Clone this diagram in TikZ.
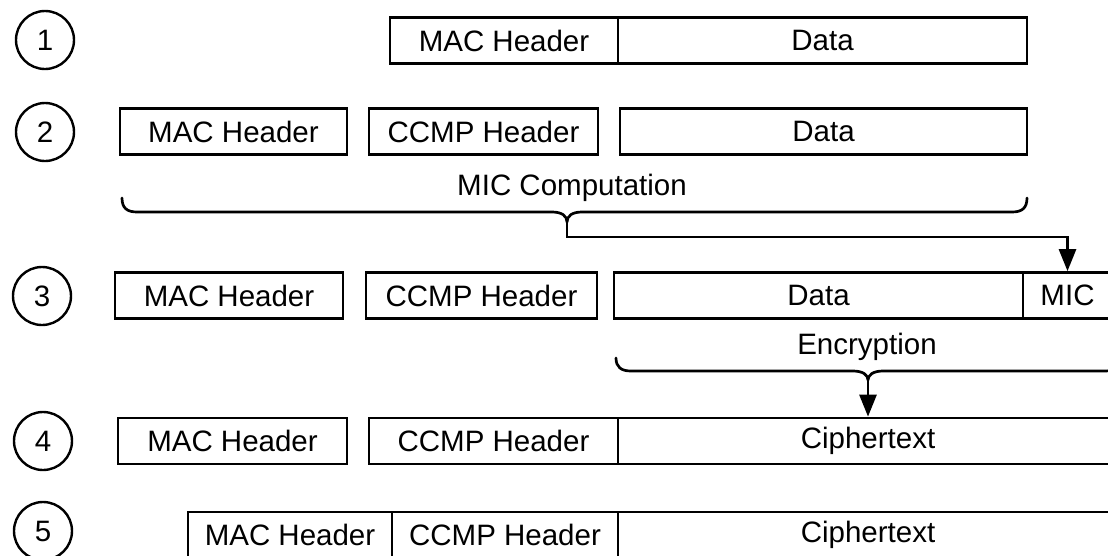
\documentclass[tikz,border=0pt]{standalone}
\usepackage{fontspec}
\setmainfont{Liberation Sans}
\usetikzlibrary{arrows.meta}
\tikzset{
  cell/.style={draw, rectangle, line width=2.7pt, minimum height=46pt, inner sep=0pt,
               font=\fontsize{29.5}{33}\selectfont},
  stepnum/.style={draw, circle, line width=2.4pt, minimum size=58pt, inner sep=0pt,
               font=\fontsize{29.5}{33}\selectfont},
  caption/.style={font=\fontsize{29.5}{33}\selectfont, inner sep=0pt},
  bracepath/.style={line width=2.7pt, line cap=round, line join=round},
  flow/.style={line width=2.7pt, -{Triangle[length=22pt,width=17pt]}},
}
\begin{document}
\begin{tikzpicture}[x=1pt,y=-1pt]
\useasboundingbox (0,0) rectangle (1108,555);
\clip (0,0) rectangle (1108,555);
\fill[white] (0,0) rectangle (1108,555);

% step numbers
\node[stepnum] (n1) at (45,40) {1};
\node[stepnum] (n2) at (45,132) {2};
\node[stepnum] (n3) at (42,296) {3};
\node[stepnum] (n4) at (43,441) {4};
\node[stepnum] (n5) at (43,531) {5};

% 1: plain frame
\node[cell, minimum width=228pt] (r1mac) at (504,40.5) {MAC Header};
\node[cell, minimum width=409pt] (r1data) at (822.5,40.5) {Data};

% 2: CCMP header inserted
\node[cell, minimum width=227pt] (r2mac) at (233.5,131.5) {MAC Header};
\node[cell, minimum width=229pt] (r2ccmp) at (483.5,131.5) {CCMP Header};
\node[cell, minimum width=407pt] (r2data) at (823.5,131.5) {Data};

\node[caption] (miclbl) at (572,188) {MIC Computation};

% brace over the whole step-2 frame
\coordinate (b1cusp) at (567,222);
\draw[bracepath] (122,198) .. controls (122,208) and (127,212) .. (137,212)
  -- (552,212) .. controls (562,212) and (567,216) .. (b1cusp)
  .. controls (567,216) and (572,212) .. (582,212)
  -- (1012,212) .. controls (1022,212) and (1027,208) .. (1027,198);

% 3: MIC appended
\node[cell, minimum width=228pt] (r3mac) at (229,295.5) {MAC Header};
\node[cell, minimum width=231pt] (r3ccmp) at (481.5,295.5) {CCMP Header};
\node[cell, minimum width=409pt] (r3data) at (818.5,295.5) {Data};
\node[cell, minimum width=89pt] (r3mic) at (1067.5,295.5) {MIC};

\coordinate (b1turn) at (567,237);
\draw[flow] (b1cusp) -- (b1turn) -| (r3mic.north);

\node[caption] (enclbl) at (867,347) {Encryption};

% brace over Data + MIC
\coordinate (b2cusp) at (868,380);
\draw[bracepath] (616,358) .. controls (616,367) and (621,371) .. (631,371)
  -- (853,371) .. controls (863,371) and (868,375) .. (b2cusp)
  .. controls (868,375) and (873,371) .. (883,371)
  -- (1105,371) .. controls (1115,371) and (1120,367) .. (1120,358);

% 4: encrypted payload
\node[cell, minimum width=229pt] (r4mac) at (232.5,441) {MAC Header};
\node[cell, minimum width=249pt] (r4ccmp) at (493.5,441) {CCMP Header};
\node[cell, minimum width=500pt] (r4ct) at (868,441) {Ciphertext};

\draw[flow] (b2cusp) -- (r4ct.north);

% 5: final frame
\node[cell, minimum width=204pt] (r5mac) at (290,535) {MAC Header};
\node[cell, minimum width=226pt] (r5ccmp) at (505,535) {CCMP Header};
\node[cell, minimum width=500pt] (r5ct) at (868,535) {Ciphertext};
\end{tikzpicture}
\end{document}
